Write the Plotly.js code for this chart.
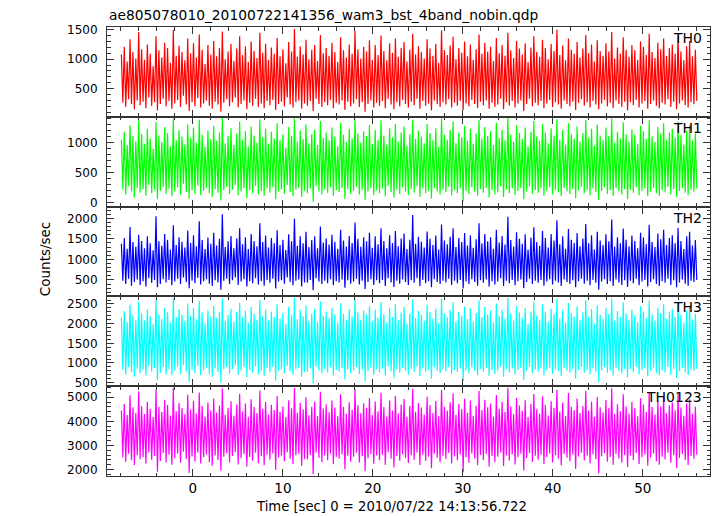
<!DOCTYPE html>
<html>
<head>
<meta charset="utf-8">
<script src="https://cdn.plot.ly/plotly-3.0.1.min.js"></script>
<style>html,body{margin:0;padding:0;background:#fff;}#chart{width:717px;height:516px;}</style>
</head>
<body>
<div id="chart"></div>
<script>
// Time bins (seconds since 2010/07/22 14:13:56.722)
const T0 = -7.95;
const DT = 0.16028;

const panelLabels = ["TH0", "TH1", "TH2", "TH3", "TH0123"];
const panelColors = ["#ff0000", "#00ff00", "#0000ff", "#00ffff", "#ff00ff"];
const yRanges = [[23, 1546], [-60, 1429], [99, 2285], [410, 2692], [1727, 5460]];
const yDticks = [500, 500, 500, 500, 1000];
const yMinor = [100, 100, 100, 100, 200];

const th0 = [
1080,260,1210,190,960,320,1340,240,1120,150,1010,300,1460,220,1170,280,
990,170,1250,350,1090,210,880,270,1390,130,1150,240,1030,330,1280,200,
1190,290,940,160,1500,250,1060,310,1230,190,1120,380,980,230,1350,120,
1100,270,1270,200,1030,340,1420,180,1160,250,920,300,1240,210,1080,160,
1310,280,1050,230,1190,110,1470,260,1000,320,1130,200,1260,270,970,350,
1180,180,1390,240,1070,300,1220,150,950,260,1300,210,1140,330,1020,190,
1450,250,1110,170,1260,290,990,220,1200,310,1090,140,1360,240,1050,280,
1170,200,930,350,1290,230,1130,180,1510,270,1040,300,1220,160,1080,250,
1330,210,1000,290,1160,120,1240,330,970,240,1410,190,1100,270,1190,220,
1060,310,1280,170,1120,260,950,230,1370,300,1150,140,1030,280,1250,200,
1090,250,1480,320,1170,190,1010,270,1210,110,1130,240,1320,300,990,180,
1240,260,1070,210,1400,290,1140,170,980,330,1270,230,1110,150,1350,270,
1040,200,1190,310,1290,240,960,180,1160,280,1430,220,1080,330,1220,160,
1120,290,1010,210,1340,250,1180,130,1060,300,1260,240,940,190,1490,270,
1150,230,1070,320,1230,180,1380,260,1000,210,1190,290,1110,140,1300,250,
1050,200,1250,310,990,240,1170,170,1420,280,1090,220,1280,300,1130,160,
1210,260,970,190,1360,230,1100,330,1240,150,1060,270,1450,210,1150,290,
1020,180,1310,250,1180,300,1080,120,1270,240,950,330,1200,200,1390,260,
1120,220,1040,290,1330,170,1190,250,1000,310,1260,190,1140,270,1500,230,
1070,160,1230,300,980,240,1350,200,1160,280,1090,140,1290,260,1030,320,
1180,210,1410,270,1100,180,1250,290,960,230,1320,150,1140,250,1060,310,
1270,200,1130,260,1460,170,1010,300,1200,240,1090,190,1370,280,1160,130,
1040,270,1240,220,1150,310,990,180,1300,250,1210,290,1070,160,1430,240,
1120,300,1020,210,1280,170,1170,260,1350,230,1060,320,1190,190,1250,280,
1090,150,1400,250,1130,300,980,220,1220,180,1310,270,1050,240,1160,290
];

const th1 = [
1050,220,1180,140,960,280,1290,190,1110,90,1020,250,1370,170,1140,230,
980,120,1230,300,1070,160,900,220,1340,60,1120,200,1010,270,1260,150,
1160,240,940,110,1400,190,1040,260,1210,140,1100,320,970,180,1300,70,
1080,210,1250,150,1000,290,1380,130,1130,200,930,250,1200,160,1060,100,
1280,230,1030,170,1170,40,1410,210,990,270,1110,150,1240,220,960,300,
1150,130,1350,190,1050,250,1190,80,940,210,1270,160,1120,280,1000,140,
1390,200,1090,120,1230,240,980,170,1180,260,1070,60,1320,190,1040,230,
1140,150,920,300,1260,180,1110,110,1400,220,1020,250,1200,100,1060,200,
1300,160,990,240,1140,20,1220,280,960,190,1360,140,1080,220,1170,170,
1040,260,1250,120,1100,210,940,180,1330,250,1130,70,1010,230,1230,150,
1070,200,1390,270,1150,140,1000,220,1190,50,1110,190,1290,250,980,130,
1210,210,1050,160,1370,240,1120,110,970,280,1240,180,1090,90,1310,220,
1020,150,1170,260,1270,190,950,130,1140,230,1380,170,1060,280,1200,100,
1100,240,990,160,1310,200,1160,70,1040,250,1240,190,930,140,1400,220,
1130,180,1050,270,1210,130,1350,210,990,160,1170,240,1090,30,1280,200,
1030,150,1230,260,980,190,1150,120,1380,230,1070,170,1260,250,1110,90,
1190,210,960,140,1330,180,1080,280,1220,100,1040,220,1410,160,1130,240,
1010,130,1290,200,1160,250,1060,60,1250,190,940,280,1180,150,1360,210,
1100,170,1030,240,1310,120,1170,200,990,260,1240,140,1120,220,1390,180,
1050,110,1210,250,970,190,1320,150,1140,230,1070,80,1270,210,1020,270,
1160,160,1380,220,1080,130,1230,240,950,180,1300,50,1120,200,1040,260,
1250,150,1110,210,1400,120,1000,250,1180,190,1070,140,1340,230,1140,60,
1020,220,1220,170,1130,260,980,130,1280,200,1190,240,1060,110,1370,190,
1100,250,1010,160,1260,120,1150,210,1320,180,1050,270,1170,140,1230,230,
1080,100,1350,200,1120,250,970,170,1200,130,1290,220,1040,190,1150,240
];

const th2 = [
1380,480,1520,400,1260,530,1790,360,1420,450,1310,510,1600,380,1450,470,
1270,340,1560,540,1390,430,1220,500,2050,320,1440,400,1330,520,1620,440,
1480,500,1240,370,1830,460,1350,530,1540,400,1430,560,1290,450,1700,300,
1400,480,1590,420,1320,550,1930,390,1470,470,1250,520,1530,410,1380,350,
1650,490,1340,440,1500,260,2100,480,1300,530,1440,400,1570,490,1270,560,
1510,380,1760,460,1370,520,1540,340,1250,470,1620,420,1450,540,1320,390,
1880,470,1420,360,1580,500,1290,430,1520,530,1390,290,1710,460,1350,490,
1480,410,1230,560,1610,450,1440,370,1990,480,1330,510,1560,340,1390,440,
1670,430,1300,500,1470,250,1560,540,1270,460,1800,400,1410,480,1510,420,
1360,520,1600,370,1430,470,1260,440,1720,510,1460,310,1310,490,1570,410,
1400,460,1900,530,1500,390,1310,480,1540,280,1440,450,1650,520,1280,380,
1560,490,1370,420,1760,500,1450,350,1270,540,1590,440,1400,330,1690,480,
1320,410,1510,510,1630,450,1250,380,1480,490,2080,430,1380,540,1550,350,
1430,500,1290,420,1680,470,1500,320,1350,520,1580,450,1240,400,1850,480,
1460,440,1370,530,1550,380,1760,480,1300,420,1520,500,1420,290,1640,460,
1340,400,1580,520,1280,450,1490,360,1880,490,1390,430,1620,510,1440,340,
1540,470,1260,390,1720,460,1410,540,1570,350,1360,480,2040,420,1470,500,
1310,370,1660,470,1500,510,1380,300,1610,450,1240,530,1530,400,1780,480,
1420,430,1330,500,1690,360,1520,460,1290,520,1620,390,1460,480,1950,440,
1370,350,1560,510,1260,450,1740,400,1480,490,1400,320,1640,470,1320,530,
1510,410,1860,480,1390,370,1590,500,1240,430,1670,260,1460,460,1350,520,
1610,400,1440,470,1970,350,1310,510,1540,440,1390,380,1750,490,1480,330,
1320,480,1580,420,1450,530,1270,370,1650,460,1530,500,1370,340,1840,450,
1420,520,1300,400,1630,350,1490,470,1720,430,1350,530,1520,380,1590,490,
1390,320,1770,440,1450,510,1250,410,1560,360,1670,480,1340,450,1470,500
];

const th3 = [
2150,820,2320,710,2040,900,2480,760,2210,650,2090,860,2560,740,2260,830,
2080,680,2350,920,2190,780,1990,870,2620,560,2240,750,2120,900,2400,700,
2290,850,2030,690,2650,800,2170,910,2370,720,2230,950,2060,780,2510,520,
2200,830,2410,740,2110,930,2580,690,2280,810,2010,880,2340,720,2180,650,
2450,860,2140,770,2300,500,2640,840,2070,900,2220,730,2380,850,2050,940,
2310,700,2530,800,2160,890,2330,640,2020,820,2420,760,2250,910,2100,710,
2600,810,2190,670,2360,870,2080,760,2300,900,2170,550,2490,800,2130,850,
2270,740,2000,930,2430,790,2210,700,2660,840,2110,880,2350,650,2190,770,
2460,770,2070,860,2260,480,2380,920,2040,800,2570,730,2200,840,2310,760,
2140,890,2400,690,2230,820,2030,780,2520,870,2250,580,2090,850,2370,740,
2180,810,2630,900,2290,720,2100,830,2340,530,2230,790,2440,880,2060,700,
2360,840,2150,760,2550,860,2240,680,2020,920,2390,790,2170,610,2500,840,
2090,750,2280,870,2420,800,2000,710,2260,850,2610,780,2140,910,2330,660,
2220,860,2070,770,2480,820,2290,600,2130,890,2380,800,2010,740,2640,840,
2250,790,2160,900,2350,720,2540,830,2060,770,2300,860,2200,540,2430,810,
2120,730,2390,890,2040,800,2270,690,2590,850,2170,780,2420,870,2230,660,
2330,830,2030,720,2510,810,2190,910,2360,650,2110,840,2650,760,2260,860,
2080,700,2450,820,2280,870,2150,570,2400,800,1990,900,2310,740,2560,830,
2200,780,2100,860,2490,690,2300,810,2050,880,2380,720,2240,840,2630,790,
2130,660,2350,870,2020,800,2530,750,2270,850,2180,600,2440,820,2090,900,
2290,760,2600,830,2160,710,2370,860,2000,780,2470,520,2230,810,2120,890,
2400,750,2250,820,2640,680,2070,880,2320,790,2170,730,2540,850,2260,640,
2100,840,2360,770,2210,900,2040,710,2440,820,2310,860,2140,660,2590,800,
2230,880,2080,740,2410,690,2270,810,2500,760,2120,900,2300,700,2380,850,
2170,620,2560,790,2220,870,2030,760,2340,690,2460,830,2110,800,2250,850
];

const th0123 = [
4450,2500,4720,2310,4260,2650,5080,2380,4580,2180,4350,2590,5250,2420,4630,2520,
4300,2240,4810,2700,4510,2400,4180,2560,5320,1900,4600,2350,4390,2680,4900,2290,
4680,2610,4240,2200,5400,2470,4420,2660,4760,2280,4550,2740,4290,2430,5110,1850,
4490,2540,4850,2330,4320,2700,5200,2250,4640,2510,4200,2620,4780,2300,4460,2150,
4950,2580,4370,2390,4660,1950,5360,2530,4270,2670,4560,2290,4830,2560,4230,2730,
4700,2210,5150,2480,4410,2640,4740,2120,4190,2520,4920,2360,4590,2690,4340,2260,
5280,2550,4520,2170,4800,2610,4280,2400,4690,2660,4470,1980,5050,2500,4400,2570,
4620,2330,4180,2720,4880,2440,4540,2230,5380,2590,4360,2640,4770,2150,4500,2420,
5000,2410,4250,2600,4610,1800,4820,2700,4220,2490,5230,2300,4530,2580,4710,2380,
4380,2650,4860,2220,4570,2520,4210,2450,5130,2620,4600,2010,4310,2570,4790,2320,
4480,2530,5340,2690,4670,2290,4330,2550,4750,1920,4560,2470,4970,2640,4260,2240,
4820,2580,4420,2380,5190,2610,4590,2190,4200,2710,4870,2440,4450,2080,5060,2560,
4330,2360,4700,2630,4930,2480,4190,2270,4640,2590,5350,2400,4400,2700,4760,2180,
4570,2610,4280,2350,5020,2530,4680,2050,4350,2650,4840,2490,4210,2300,5300,2570,
4610,2430,4440,2680,4790,2250,5170,2540,4270,2380,4720,2620,4510,1880,4940,2510,
4360,2280,4860,2660,4230,2460,4650,2170,5260,2600,4470,2390,4900,2640,4580,2120,
4740,2560,4200,2300,5090,2530,4520,2700,4810,2140,4390,2580,5390,2360,4620,2620,
4290,2210,4980,2510,4660,2650,4440,1960,4880,2480,4180,2680,4730,2310,5140,2570,
4500,2400,4310,2610,5040,2230,4690,2520,4240,2660,4830,2290,4560,2590,5310,2450,
4410,2160,4780,2640,4220,2490,5180,2340,4600,2620,4470,2020,4950,2540,4340,2690,
4640,2370,5270,2580,4450,2250,4810,2630,4190,2420,5010,1830,4580,2550,4370,2670,
4890,2320,4560,2520,5370,2190,4300,2640,4710,2460,4420,2280,5120,2600,4620,2100,
4320,2570,4800,2390,4540,2680,4210,2230,4960,2510,4700,2620,4390,2150,5220,2490,
4590,2660,4280,2340,4850,2200,4630,2530,5030,2410,4350,2690,4670,2280,4790,2590,
4460,2060,5160,2480,4570,2640,4230,2390,4740,2180,4920,2560,4310,2450,4610,2610
];

const series = [th0, th1, th2, th3, th0123];

const FONT = "DejaVu Sans, Liberation Sans, Arial, sans-serif";
const AXC = "#333333";
const N = series.length;
const traces = [];
const layout = {
  width: 717, height: 516,
  margin: {l: 107, r: 7, t: 27, b: 40},
  paper_bgcolor: "#ffffff", plot_bgcolor: "#ffffff",
  showlegend: false,
  font: {family: FONT, size: 13, color: "#000"},
  annotations: []
};

for (let i = 0; i < N; i++) {
  const sfx = i === 0 ? "" : String(i + 1);
  traces.push({
    type: "scatter", mode: "lines",
    y: series[i], x0: T0, dx: DT,
    xaxis: "x" + sfx, yaxis: "y" + sfx,
    line: {color: panelColors[i], width: 1.2},
    hoverinfo: "skip"
  });
  const top = 1 - i / N, bot = 1 - (i + 1) / N;
  layout["xaxis" + sfx] = {
    domain: [0, 1], anchor: "y" + sfx, range: [-9.55, 57.47],
    showgrid: false, zeroline: false, showline: true, linecolor: AXC, linewidth: 1,
    mirror: "ticks", ticks: "inside", ticklen: 7, tickcolor: AXC, tickwidth: 1,
    tick0: 0, dtick: 10,
    minor: {ticks: "inside", dtick: 2, ticklen: 3.5, tickcolor: AXC, showgrid: false},
    showticklabels: i === N - 1,
    tickfont: {family: FONT, size: 13.5, color: "#000"},
    ticklabelstandoff: 0
  };
  layout["yaxis" + sfx] = {
    domain: [bot, top], anchor: "x" + sfx, range: yRanges[i],
    showgrid: false, zeroline: false, showline: true, linecolor: AXC, linewidth: 1,
    mirror: "ticks", ticks: "inside", ticklen: 7, tickcolor: AXC, tickwidth: 1,
    tick0: 0, dtick: yDticks[i],
    minor: {ticks: "inside", dtick: yMinor[i], ticklen: 3.5, tickcolor: AXC, showgrid: false},
    tickfont: {family: FONT, size: 12, color: "#000"},
    ticklabelstandoff: 6
  };
  layout.annotations.push({
    xref: "paper", yref: "paper", x: 1, y: top, xanchor: "right", yanchor: "top",
    xshift: -6, yshift: -1, showarrow: false, text: panelLabels[i],
    font: {family: FONT, size: 14, color: "#000"}
  });
}

layout.annotations.push({
  xref: "paper", yref: "paper", x: 0, y: 1.0274, xanchor: "left", yanchor: "middle",
  showarrow: false, text: "ae805078010_20100722141356_wam3_bst_4band_nobin.qdp",
  font: {family: FONT, size: 13.8, color: "#000"}
});
layout.annotations.push({
  xref: "paper", yref: "paper", x: -0.1028, y: 0.483, xanchor: "center", yanchor: "middle",
  textangle: -90, showarrow: false, text: "Counts/sec",
  font: {family: FONT, size: 13.5, color: "#000"}
});
layout.annotations.push({
  xref: "paper", yref: "paper", x: 0.4724, y: -0.069, xanchor: "center", yanchor: "middle",
  showarrow: false, text: "Time [sec] 0 = 2010/07/22 14:13:56.722",
  font: {family: FONT, size: 13.2, color: "#000"}
});

Plotly.newPlot("chart", traces, layout, {staticPlot: true, displayModeBar: false});
</script>
</body>
</html>
